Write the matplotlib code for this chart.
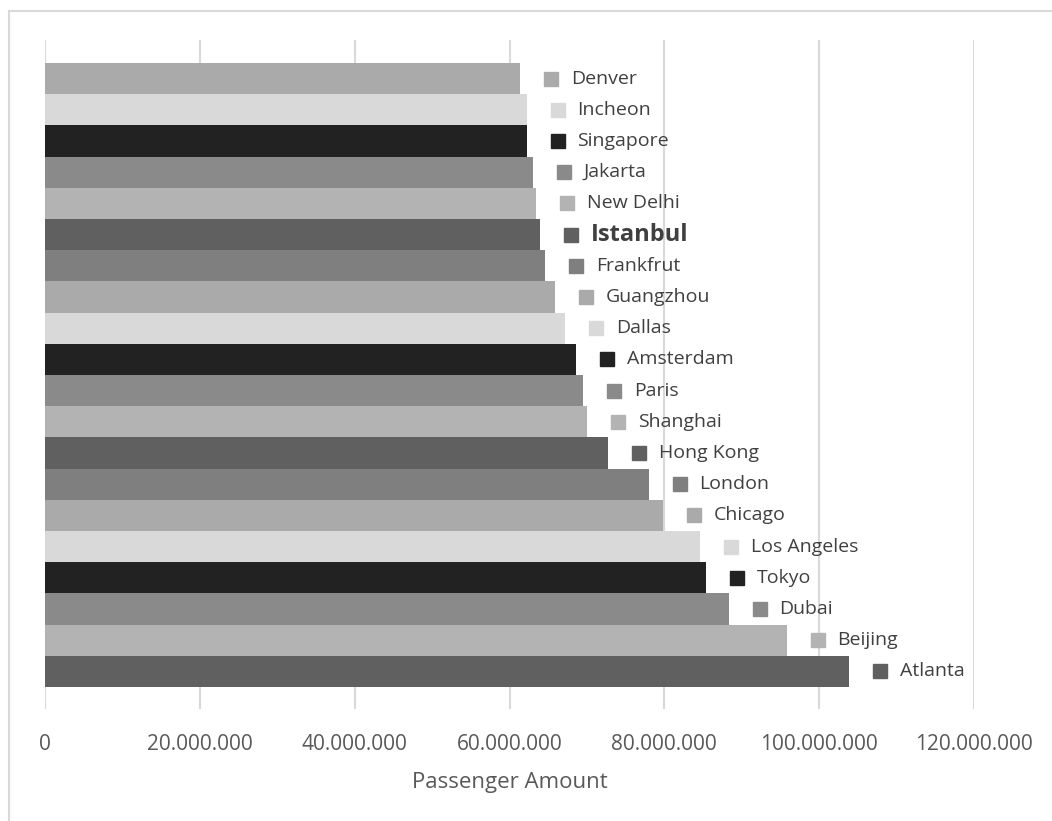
import matplotlib
matplotlib.use("Agg")
import matplotlib.pyplot as plt
import matplotlib.transforms as mtransforms
from matplotlib.lines import Line2D
from matplotlib.ticker import FuncFormatter

plt.rcParams["font.family"] = ["Open Sans", "DejaVu Sans"]

# busiest airports, bottom to top
cities = ["Atlanta", "Beijing", "Dubai", "Tokyo", "Los Angeles", "Chicago",
          "London", "Hong Kong", "Shanghai", "Paris", "Amsterdam", "Dallas",
          "Guangzhou", "Frankfrut", "Istanbul", "New Delhi", "Jakarta",
          "Singapore", "Incheon", "Denver"]
passengers = [103.9e6, 95.8e6, 88.3e6, 85.4e6, 84.6e6, 79.8e6,
              78.0e6, 72.7e6, 70.0e6, 69.5e6, 68.6e6, 67.2e6,
              65.9e6, 64.6e6, 64.0e6, 63.4e6, 63.0e6,
              62.2e6, 62.2e6, 61.4e6]
highlight = "Istanbul"
x_ticks = [0, 20e6, 40e6, 60e6, 80e6, 100e6, 120e6]

palette = ["#606060", "#b3b3b3", "#8a8a8a", "#222222", "#d9d9d9", "#aaaaaa", "#7f7f7f"]
colors = [palette[i % len(palette)] for i in range(len(cities))]

fig = plt.figure(figsize=(10.52, 8.21), dpi=100)
ax = fig.add_axes([45 / 1052, 112 / 821, 929 / 1052, 669 / 821])

ypos = list(range(len(cities)))
ax.barh(ypos, passengers, height=1.0, color=colors, zorder=2)

# legend-style tags next to each bar end
sq_tr = mtransforms.offset_copy(ax.transData, fig=fig, x=22.3, y=0, units="points")
txt_tr = mtransforms.offset_copy(ax.transData, fig=fig, x=36.5, y=0, units="points")
for y, v, name, c in zip(ypos, passengers, cities, colors):
    ax.plot([v], [y], marker="s", markersize=10, color=c, transform=sq_tr,
            clip_on=False, zorder=3)
    if name == highlight:
        ax.text(v, y, name, transform=txt_tr, va="center", ha="left",
                fontsize=17, fontweight="bold", color="#404040")
    else:
        ax.text(v, y, name, transform=txt_tr, va="center", ha="left",
                fontsize=14, color="#404040")

ax.set_xlim(0, 120e6)
ax.set_ylim(-1.205, 20.237)
ax.set_xticks(x_ticks)
ax.xaxis.set_major_formatter(FuncFormatter(lambda v, p: f"{int(v):,}".replace(",", ".")))
ax.set_yticks([])
ax.tick_params(axis="x", length=0, pad=18, labelsize=15, labelcolor="#595959")
ax.grid(axis="x", color="#d9d9d9", linewidth=1.5, zorder=0)
ax.set_axisbelow(True)
for s in ax.spines.values():
    s.set_visible(False)
ax.set_xlabel("Passenger Amount", fontsize=16, color="#595959", labelpad=12)

# chart frame
fig.add_artist(Line2D([9, 9], [0, 810], transform=None, color="#d9d9d9", linewidth=1.5))
fig.add_artist(Line2D([9, 1052], [810, 810], transform=None, color="#d9d9d9", linewidth=1.5))

fig.savefig("out.png", dpi=100)
